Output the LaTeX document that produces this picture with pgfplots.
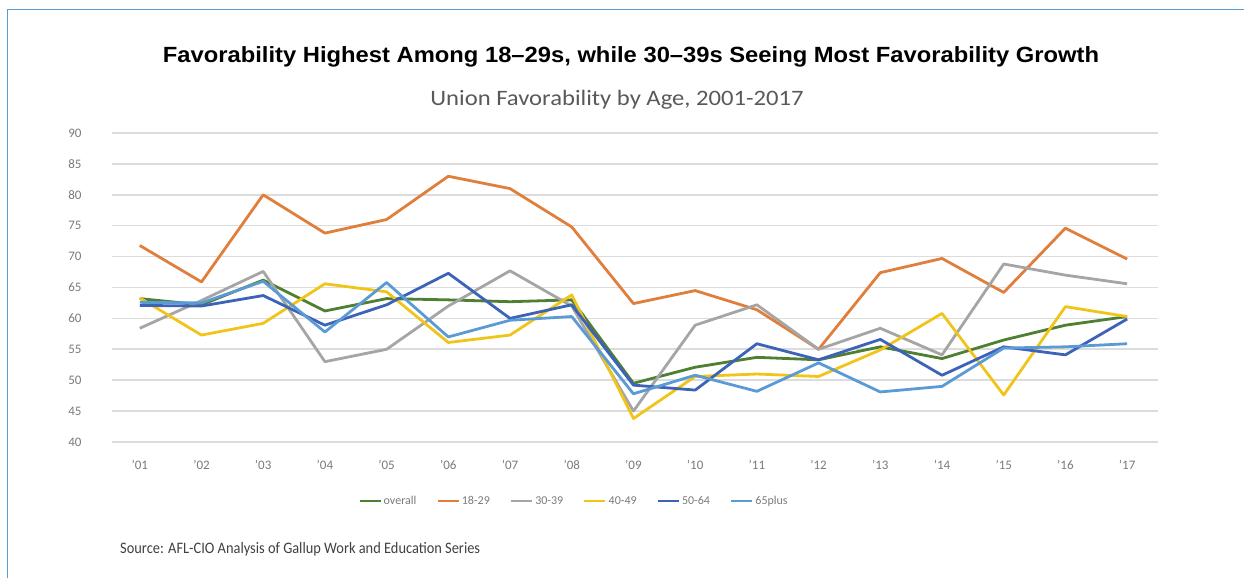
\documentclass[border=0pt]{standalone}
\usepackage{fontspec}
\setmainfont{Carlito}
\newfontfamily\titlefont{Liberation Sans}
\usepackage{pgfplots}
\pgfplotsset{compat=1.18}
\definecolor{cOverall}{HTML}{4E7F32}
\definecolor{cA}{HTML}{E07E3C}
\definecolor{cB}{HTML}{A5A5A5}
\definecolor{cC}{HTML}{F0C419}
\definecolor{cD}{HTML}{3D63B8}
\definecolor{cE}{HTML}{5B9BD5}
\definecolor{gridc}{HTML}{DCDCDC}
\definecolor{tickc}{HTML}{7A7A7A}
\definecolor{framec}{HTML}{5B9BD5}
\begin{document}
\begin{tikzpicture}
\useasboundingbox (0pt,0pt) rectangle (1244pt,578pt);
\draw[framec, line width=1.5pt] (7.5pt,0pt) -- (7.5pt,568.5pt) -- (1244pt,568.5pt);
\node[anchor=center] at (631pt,521pt) {\scalebox{1.08}[1]{\titlefont\bfseries\fontsize{22}{26}\selectfont Favorability Highest Among 18–29s, while 30–39s Seeing Most Favorability Growth}};
\node[anchor=center, text={black!65}] at (617pt,478pt) {\scalebox{1.12}[1]{\fontsize{22}{26}\selectfont Union Favorability by Age, 2001-2017}};
\node[anchor=west, text={black!75}, inner sep=0pt] at (120pt,29pt) {\scalebox{0.9}[1]{\fontsize{16}{20}\selectfont Source: AFL-CIO Analysis of Gallup Work and Education Series}};
\begin{axis}[
  scale only axis, width=1046pt, height=309pt,
  at={(112pt,136pt)}, anchor=south west,
  xmin=-0.45, xmax=16.5, ymin=40, ymax=90,
  xtick={0,...,16},
  xticklabels={'01,'02,'03,'04,'05,'06,'07,'08,'09,'10,'11,'12,'13,'14,'15,'16,'17},
  ytick={40,45,...,90},
  ymajorgrids, major grid style={draw=gridc, line width=1.6pt},
  axis line style={draw=none}, major tick length=0pt,
  /pgf/number format/assume math mode=true,
  tick label style={font=\fontsize{13}{15}\selectfont, text=tickc},
  yticklabel style={xshift=-27pt},
  xticklabel style={yshift=-15pt},
  legend columns=6,
  legend style={at={(0.4417,-0.191)}, anchor=center, draw=none, fill=none,
    font=\fontsize{12}{13}\selectfont, text=tickc,
    /tikz/every even column/.append style={column sep=18pt}},
  legend image code/.code={\draw[#1, line width=2.4pt] (0pt,0pt) -- (21pt,0pt);},
  every axis plot/.append style={line width=2.8pt, line join=round, mark=none},
]
\addplot[cOverall] coordinates {(0,63.2)(1,62.2)(2,66.2)(3,61.2)(4,63.2)(5,63.0)(6,62.7)(7,63.0)(8,49.5)(9,52.1)(10,53.7)(11,53.3)(12,55.4)(13,53.5)(14,56.5)(15,58.9)(16,60.3)};
\addlegendentry{overall}
\addplot[cA] coordinates {(0,71.8)(1,65.9)(2,80.0)(3,73.8)(4,76.0)(5,83.0)(6,81.0)(7,74.8)(8,62.4)(9,64.5)(10,61.4)(11,55.0)(12,67.4)(13,69.7)(14,64.2)(15,74.6)(16,69.6)};
\addlegendentry{18-29}
\addplot[cB] coordinates {(0,58.4)(1,62.9)(2,67.6)(3,53.0)(4,55.0)(5,62.0)(6,67.7)(7,62.0)(8,45.0)(9,58.9)(10,62.2)(11,55.0)(12,58.4)(13,54.1)(14,68.8)(15,67.0)(16,65.6)};
\addlegendentry{30-39}
\addplot[cC] coordinates {(0,63.3)(1,57.3)(2,59.2)(3,65.6)(4,64.3)(5,56.1)(6,57.3)(7,63.8)(8,43.8)(9,50.6)(10,51.0)(11,50.6)(12,54.9)(13,60.8)(14,47.6)(15,61.9)(16,60.3)};
\addlegendentry{40-49}
\addplot[cD] coordinates {(0,62.1)(1,62.0)(2,63.7)(3,58.9)(4,62.2)(5,67.3)(6,60.0)(7,62.2)(8,49.2)(9,48.4)(10,55.9)(11,53.3)(12,56.6)(13,50.8)(14,55.4)(15,54.1)(16,59.9)};
\addlegendentry{50-64}
\addplot[cE] coordinates {(0,62.6)(1,62.5)(2,66.0)(3,57.8)(4,65.8)(5,57.0)(6,59.7)(7,60.3)(8,47.8)(9,50.8)(10,48.2)(11,52.8)(12,48.1)(13,49.0)(14,55.2)(15,55.4)(16,55.9)};
\addlegendentry{65plus}
\end{axis}
\end{tikzpicture}
\end{document}
